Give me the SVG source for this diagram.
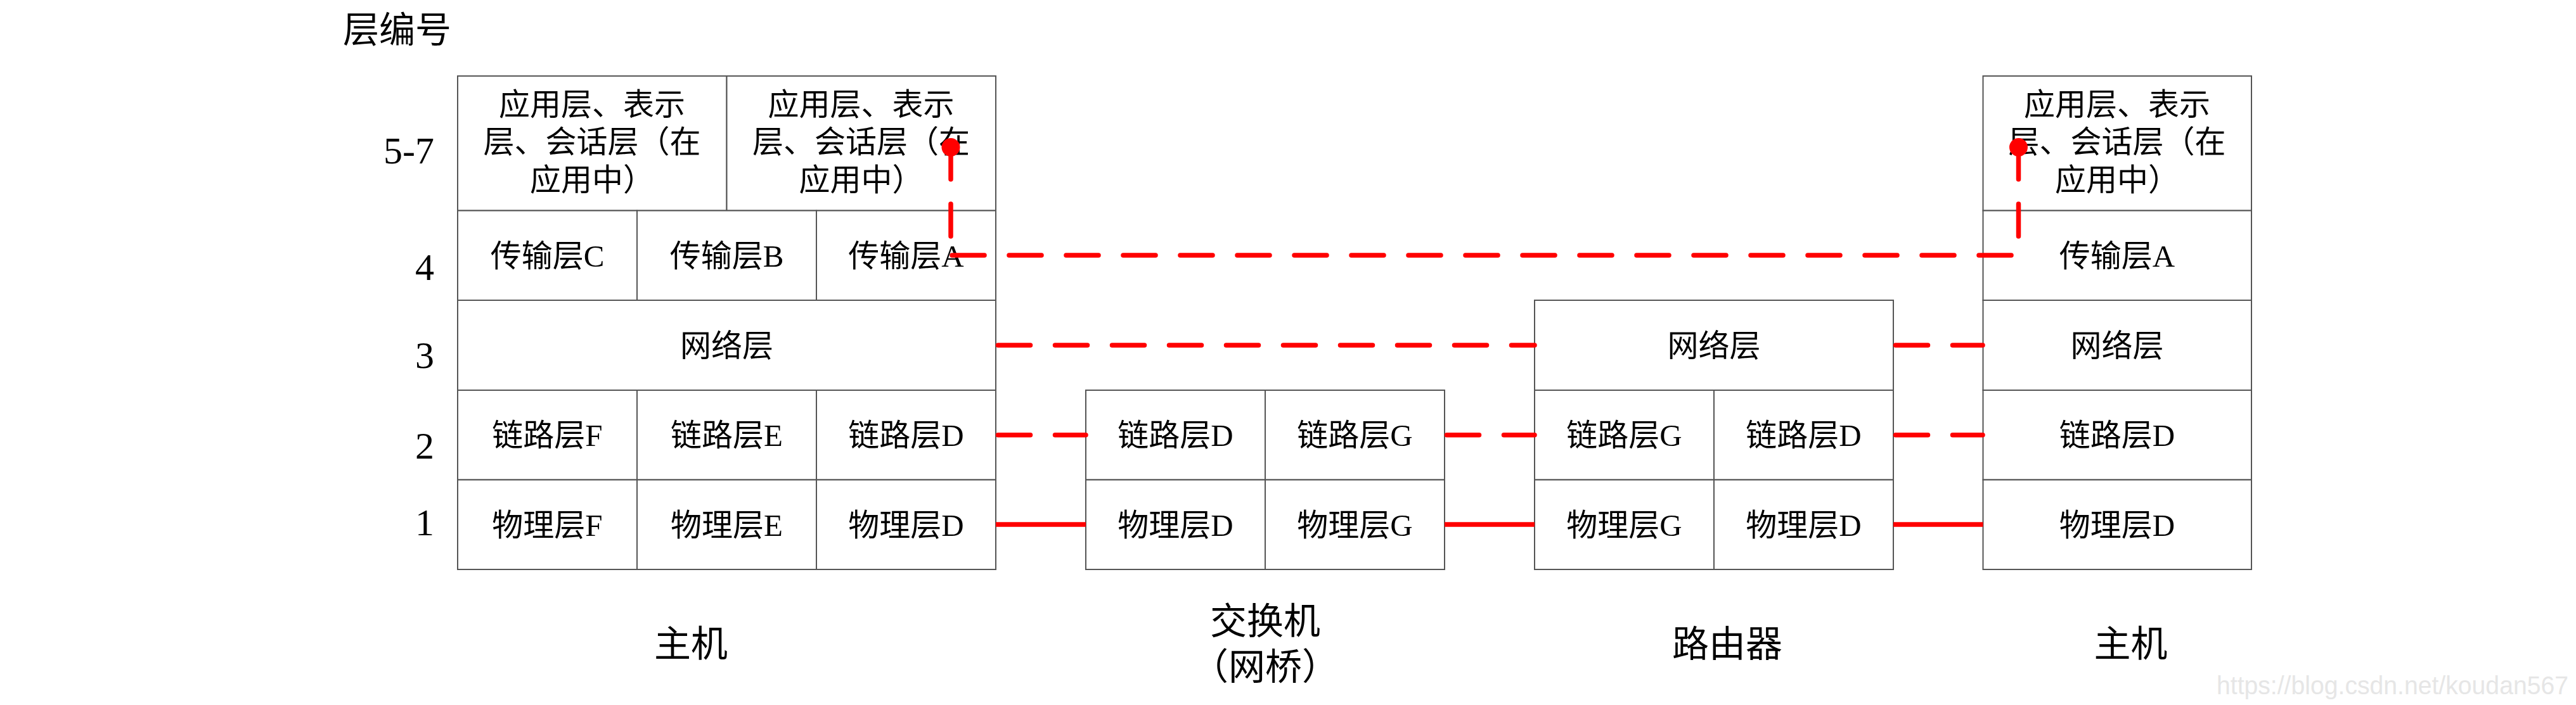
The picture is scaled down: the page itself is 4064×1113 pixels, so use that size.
<svg xmlns="http://www.w3.org/2000/svg" width="4064" height="1113" viewBox="0 0 4064 1113">
<style>
  .box { fill: #ffffff; stroke: #555555; stroke-width: 2; }
  .t { font-family: "Liberation Serif", "Noto Sans CJK SC", serif; font-size: 49px; fill: #000; text-anchor: middle; }
  .num { font-family: "Liberation Serif", serif; font-size: 60px; fill: #000; text-anchor: end; }
  .lbl { font-family: "Liberation Serif", "Noto Sans CJK SC", serif; font-size: 58px; fill: #000; text-anchor: middle; }
  .dash { fill: none; stroke: #ff0000; stroke-width: 7.5; stroke-linecap: round; stroke-dasharray: 51 39; }
  .solid { fill: none; stroke: #ff0000; stroke-width: 7.5; }
  .dot { fill: #ff0000; }
  .wm { font-family: "Liberation Sans", sans-serif; font-size: 41px; fill: #e6e6e6; }
</style>
<rect x="0" y="0" width="4064" height="1113" fill="#ffffff"/>

<g id="axis">
  <text x="541" y="67" class="lbl" style="text-anchor:start;font-size:57px">层编号</text>
  <text x="685" y="258" class="num">5-7</text>
  <text x="685" y="442" class="num">4</text>
  <text x="685" y="581" class="num">3</text>
  <text x="685" y="724" class="num">2</text>
  <text x="685" y="845" class="num">1</text>
</g>

<g id="host-left">
  <rect class="box" x="722" y="120" width="424.5" height="212.5"/>
  <rect class="box" x="1146.5" y="120" width="424.5" height="212.5"/>
  <rect class="box" x="722" y="332.5" width="283" height="141.5"/>
  <rect class="box" x="1005" y="332.5" width="283" height="141.5"/>
  <rect class="box" x="1288" y="332.5" width="283" height="141.5"/>
  <rect class="box" x="722" y="474" width="849" height="142"/>
  <rect class="box" x="722" y="616" width="283" height="141.5"/>
  <rect class="box" x="1005" y="616" width="283" height="141.5"/>
  <rect class="box" x="1288" y="616" width="283" height="141.5"/>
  <rect class="box" x="722" y="757.5" width="283" height="141.5"/>
  <rect class="box" x="1005" y="757.5" width="283" height="141.5"/>
  <rect class="box" x="1288" y="757.5" width="283" height="141.5"/>
  <text class="t" x="934" y="182">应用层、表示</text>
  <text class="t" x="934" y="241">层、会话层（在</text>
  <text class="t" x="934" y="301">应用中）</text>
  <text class="t" x="1358.5" y="182">应用层、表示</text>
  <text class="t" x="1358.5" y="241">层、会话层（在</text>
  <text class="t" x="1358.5" y="301">应用中）</text>
  <text class="t" x="863.5" y="420.5">传输层C</text>
  <text class="t" x="1146.5" y="420.5">传输层B</text>
  <text class="t" x="1429.5" y="420.5">传输层A</text>
  <text class="t" x="1146.5" y="562.5">网络层</text>
  <text class="t" x="863.5" y="704">链路层F</text>
  <text class="t" x="1146.5" y="704">链路层E</text>
  <text class="t" x="1429.5" y="704">链路层D</text>
  <text class="t" x="863.5" y="845.5">物理层F</text>
  <text class="t" x="1146.5" y="845.5">物理层E</text>
  <text class="t" x="1429.5" y="845.5">物理层D</text>
  <text class="lbl" x="1090" y="1037">主机</text>
</g>

<g id="switch">
  <rect class="box" x="1713" y="616" width="283" height="141.5"/>
  <rect class="box" x="1996" y="616" width="283" height="141.5"/>
  <rect class="box" x="1713" y="757.5" width="283" height="141.5"/>
  <rect class="box" x="1996" y="757.5" width="283" height="141.5"/>
  <text class="t" x="1854.5" y="704">链路层D</text>
  <text class="t" x="2137.5" y="704">链路层G</text>
  <text class="t" x="1854.5" y="845.5">物理层D</text>
  <text class="t" x="2137.5" y="845.5">物理层G</text>
  <text class="lbl" x="1996" y="1001">交换机</text>
  <text class="lbl" x="1996" y="1073">（网桥）</text>
</g>

<g id="router">
  <rect class="box" x="2421" y="474" width="566" height="142"/>
  <rect class="box" x="2421" y="616" width="283" height="141.5"/>
  <rect class="box" x="2704" y="616" width="283" height="141.5"/>
  <rect class="box" x="2421" y="757.5" width="283" height="141.5"/>
  <rect class="box" x="2704" y="757.5" width="283" height="141.5"/>
  <text class="t" x="2704" y="562.5">网络层</text>
  <text class="t" x="2562.5" y="704">链路层G</text>
  <text class="t" x="2845.5" y="704">链路层D</text>
  <text class="t" x="2562.5" y="845.5">物理层G</text>
  <text class="t" x="2845.5" y="845.5">物理层D</text>
  <text class="lbl" x="2725" y="1037">路由器</text>
</g>

<g id="host-right">
  <rect class="box" x="3128.5" y="120" width="423.5" height="212.5"/>
  <rect class="box" x="3128.5" y="332.5" width="423.5" height="141.5"/>
  <rect class="box" x="3128.5" y="474" width="423.5" height="142"/>
  <rect class="box" x="3128.5" y="616" width="423.5" height="141.5"/>
  <rect class="box" x="3128.5" y="757.5" width="423.5" height="141.5"/>
  <text class="t" x="3340" y="182">应用层、表示</text>
  <text class="t" x="3340" y="241">层、会话层（在</text>
  <text class="t" x="3340" y="301">应用中）</text>
  <text class="t" x="3340" y="420.5">传输层A</text>
  <text class="t" x="3340" y="562.5">网络层</text>
  <text class="t" x="3340" y="704">链路层D</text>
  <text class="t" x="3340" y="845.5">物理层D</text>
  <text class="lbl" x="3361.5" y="1037">主机</text>
</g>

<g id="connectors">
  <path class="dash" d="M1500,232 V380"/>
  <path class="dash" d="M1502,403 H3173"/>
  <path class="dash" d="M3184.5,232 V380"/>
  <circle class="dot" cx="1500" cy="232.5" r="14.5"/>
  <circle class="dot" cx="3184.5" cy="232.5" r="14.5"/>
  <path class="dash" d="M1574.5,545 H2421"/>
  <path class="dash" d="M2990.5,545 H3128"/>
  <path class="dash" d="M1574.5,686.7 H1713"/>
  <path class="dash" d="M2282.5,686.7 H2421"/>
  <path class="dash" d="M2990.5,686.7 H3128"/>
  <path class="solid" d="M1571,828 H1713"/>
  <path class="solid" d="M2279,828 H2421"/>
  <path class="solid" d="M2987,828 H3128.5"/>
</g>

<text class="wm" x="3497" y="1096" textLength="555" lengthAdjust="spacingAndGlyphs">https://blog.csdn.net/koudan567</text>
</svg>
